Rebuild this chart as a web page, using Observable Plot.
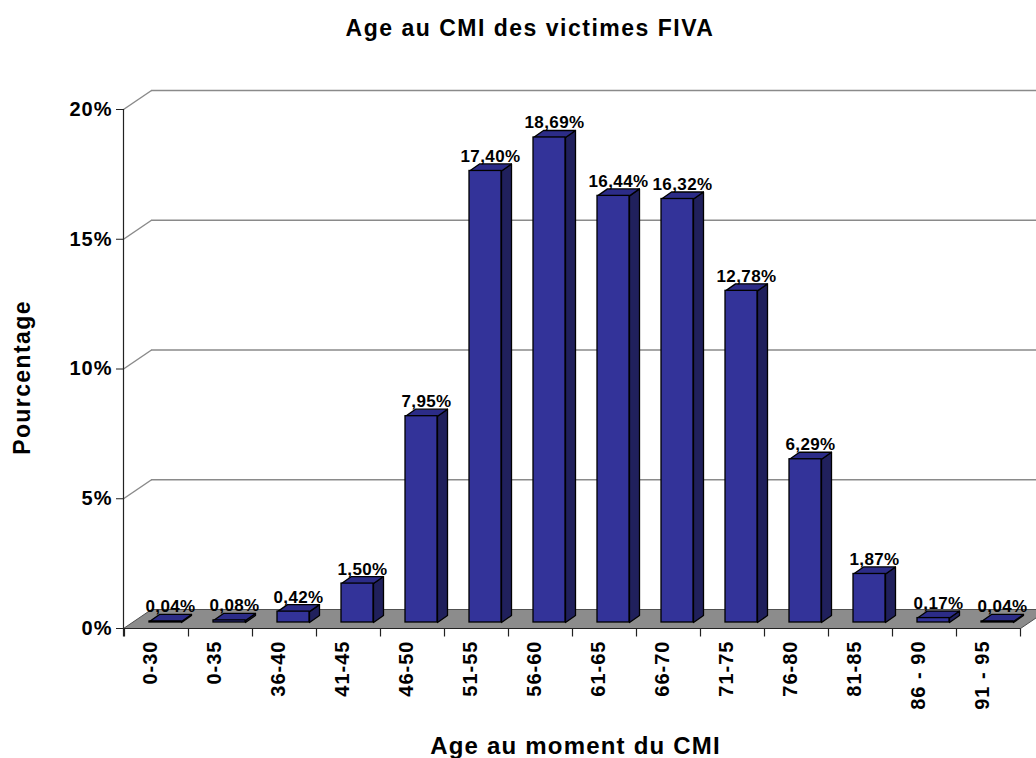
<!DOCTYPE html>
<html>
<head>
<meta charset="utf-8">
<script src="https://cdn.jsdelivr.net/npm/d3@7"></script>
<script src="https://cdn.jsdelivr.net/npm/@observablehq/plot@0.6"></script>
<style>
  html, body { margin: 0; padding: 0; background: #fff; }
  #title {
    width: 1036px; height: 60px; box-sizing: border-box;
    padding-top: 17px; padding-left: 24px; text-align: center;
    font: bold 23px "Liberation Sans", Arial, sans-serif; line-height: 1;
    letter-spacing: 1.5px; color: #000;
  }
  #chart svg { display: block; }
  g[font-size="17"] { letter-spacing: 0.4px; }
  g[font-size="20"] { letter-spacing: 1px; }
  g[font-size="24"] { letter-spacing: 1.2px; }
  g[font-size="23"] { letter-spacing: 1.4px; }
</style>
</head>
<body>
<div id="title">Age au CMI des victimes FIVA</div>
<div id="chart"></div>
<script>
// ---- data ----
const categories = ["0-30", "0-35", "36-40", "41-45", "46-50", "51-55", "56-60",
                    "61-65", "66-70", "71-75", "76-80", "81-85", "86 - 90", "91 - 95"];
const values = [0.04, 0.08, 0.42, 1.50, 7.95, 17.40, 18.69, 16.44, 16.32, 12.78, 6.29, 1.87, 0.17, 0.04];
const yTicks = [0, 5, 10, 15, 20];
const xTitle = "Age au moment du CMI";
const yTitle = "Pourcentage";

const data = categories.map((c, i) => ({
  cat: c,
  value: values[i],
  label: values[i].toFixed(2).replace(".", ",") + "%"
}));

// ---- 3D styling constants (pixels) ----
const WALL_DX = 28, WALL_DY = 19;     // depth of the floor / walls
const BAR_DX = 10, BAR_DY = 7;        // depth of each bar
const BAR_OFF_X = 9, BAR_OFF_Y = 6;   // bars sit in the middle of the depth
const INSET = 16;                     // gap between bar and band edge

const font = '"Liberation Sans", Arial, sans-serif';

// floor, side-wall gridlines, axis line and category ticks
function scene(index, scales, values, dims) {
  const {x, y} = scales;
  const x0 = dims.marginLeft + 0.5, x1 = dims.width - dims.marginRight + 0.5;
  const y0 = y(0) + 0.5;
  const g = d3.create("svg:g");
  for (const t of yTicks.slice(1)) {
    g.append("line")
      .attr("x1", x0).attr("y1", y(t) + 0.5)
      .attr("x2", x0 + WALL_DX).attr("y2", y(t) + 0.5 - WALL_DY)
      .attr("stroke", "#8a8a8a").attr("stroke-width", 1.5);
  }
  g.append("polygon")
    .attr("points", [[x0, y0], [x1, y0], [x1 + WALL_DX, y0 - WALL_DY], [x0 + WALL_DX, y0 - WALL_DY]].join(" "))
    .attr("fill", "#8c8c8c").attr("stroke", "#505050").attr("stroke-width", 1);
  g.append("line").attr("x1", x0).attr("x2", x1).attr("y1", y0).attr("y2", y0)
    .attr("stroke", "#222").attr("stroke-width", 1.2);
  const bw = x.bandwidth();
  const bounds = [x(categories[0])].concat(categories.map(c => x(c) + bw));
  for (const bx of bounds) {
    g.append("line").attr("x1", bx + 0.5).attr("x2", bx + 0.5).attr("y1", y0).attr("y2", y0 + 8)
      .attr("stroke", "#222").attr("stroke-width", 1.2);
  }
  g.append("line").attr("x1", x0).attr("x2", x0).attr("y1", y(yTicks[yTicks.length - 1])).attr("y2", y0 + 8)
    .attr("stroke", "#222").attr("stroke-width", 1.2);
  return g.node();
}

// side and top faces of the bars
function barFaces(index, scales) {
  const {x, y} = scales;
  const bw = x.bandwidth();
  const g = d3.create("svg:g").attr("stroke", "#000").attr("stroke-width", 1.3).attr("stroke-linejoin", "round");
  for (const d of data) {
    const l = x(d.cat) + INSET + BAR_OFF_X + 0.5;
    const r = x(d.cat) + bw - INSET + BAR_OFF_X + 0.5;
    const t = y(d.value) - BAR_OFF_Y + 0.5;
    const b = y(0) - BAR_OFF_Y + 0.5;
    g.append("polygon")
      .attr("points", [[r, b], [r + BAR_DX, b - BAR_DY], [r + BAR_DX, t - BAR_DY], [r, t]].join(" "))
      .attr("fill", "#20205c");
    g.append("polygon")
      .attr("points", [[l, t], [l + BAR_DX, t - BAR_DY], [r + BAR_DX, t - BAR_DY], [r, t]].join(" "))
      .attr("fill", "#2c2c88");
  }
  return g.node();
}

const chart = Plot.plot({
  width: 1036,
  height: 698,
  marginLeft: 123,
  marginRight: 16,
  marginTop: 49,
  marginBottom: 130,
  style: {fontFamily: font, fontWeight: "bold", color: "#000", background: "#fff", overflow: "visible"},
  x: {type: "band", domain: categories, padding: 0, axis: null},
  y: {domain: [0, 20], axis: null},
  marks: [
    scene,
    Plot.ruleY(yTicks.slice(1), {dx: WALL_DX, dy: -WALL_DY, stroke: "#8a8a8a", strokeWidth: 1.5}),
    barFaces,
    Plot.barY(data, {x: "cat", y: "value", insetLeft: INSET, insetRight: INSET,
      dx: BAR_OFF_X, dy: -BAR_OFF_Y, fill: "#333399", stroke: "#000", strokeWidth: 1.3}),
    Plot.text(data, {x: "cat", y: "value", text: "label", dx: BAR_OFF_X + BAR_DX / 2, dy: -15,
      lineAnchor: "bottom", fontSize: 17, fontWeight: "bold", fill: "#000"}),
    Plot.axisY({ticks: yTicks, tickFormat: d => d + "%", tickSize: 7, tickPadding: 4,
      fontSize: 20, fontWeight: "bold", stroke: "#222", label: null}),
    Plot.text(categories, {x: d => d, frameAnchor: "bottom", rotate: -90, textAnchor: "end",
      dy: 12, fontSize: 20, fontWeight: "bold", fill: "#000"}),
    Plot.text([yTitle], {frameAnchor: "left", textAnchor: "middle", rotate: -90, dx: -101, dy: 8.5,
      fontSize: 23, fontWeight: "bold", fill: "#000"}),
    Plot.text([xTitle], {frameAnchor: "bottom", lineAnchor: "bottom", dx: 3.5, dy: 125,
      fontSize: 24, fontWeight: "bold", fill: "#000"})
  ]
});
document.getElementById("chart").appendChild(chart);
</script>
</body>
</html>
